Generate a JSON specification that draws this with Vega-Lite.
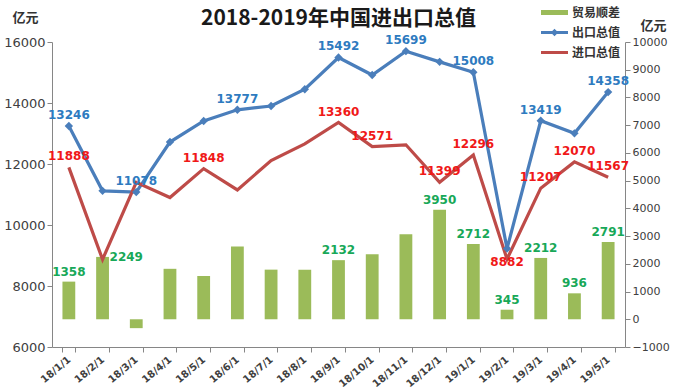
{
  "$schema": "https://vega.github.io/schema/vega-lite/v6.json",
  "width": 573,
  "height": 305,
  "autosize": "none",
  "padding": {"left": 52, "top": 42, "right": 52, "bottom": 45},
  "background": "white",
  "config": {"view": {"stroke": null}, "axis": {"grid": false}},
  "title": {"text": "2018-2019年中国进出口总值", "font": "Noto Sans CJK SC", "fontSize": 21, "fontWeight": "bold", "color": "#1a1a1a", "anchor": "middle", "offset": 0, "dy": 24},
  "data": {"values": [
    {"month": "18/1/1", "出口总值": 13246, "进口总值": 11888, "贸易顺差": 1358},
    {"month": "18/2/1", "出口总值": 11120, "进口总值": 8871, "贸易顺差": 2249},
    {"month": "18/3/1", "出口总值": 11078, "进口总值": 11398, "贸易顺差": -320},
    {"month": "18/4/1", "出口总值": 12720, "进口总值": 10900, "贸易顺差": 1820},
    {"month": "18/5/1", "出口总值": 13410, "进口总值": 11848, "贸易顺差": 1562},
    {"month": "18/6/1", "出口总值": 13777, "进口总值": 11150, "贸易顺差": 2627},
    {"month": "18/7/1", "出口总值": 13900, "进口总值": 12110, "贸易顺差": 1790},
    {"month": "18/8/1", "出口总值": 14450, "进口总值": 12660, "贸易顺差": 1790},
    {"month": "18/9/1", "出口总值": 15492, "进口总值": 13360, "贸易顺差": 2132},
    {"month": "18/10/1", "出口总值": 14917, "进口总值": 12571, "贸易顺差": 2346},
    {"month": "18/11/1", "出口总值": 15699, "进口总值": 12630, "贸易顺差": 3069},
    {"month": "18/12/1", "出口总值": 15349, "进口总值": 11399, "贸易顺差": 3950},
    {"month": "19/1/1", "出口总值": 15008, "进口总值": 12296, "贸易顺差": 2712},
    {"month": "19/2/1", "出口总值": 9227, "进口总值": 8882, "贸易顺差": 345},
    {"month": "19/3/1", "出口总值": 13419, "进口总值": 11207, "贸易顺差": 2212},
    {"month": "19/4/1", "出口总值": 13006, "进口总值": 12070, "贸易顺差": 936},
    {"month": "19/5/1", "出口总值": 14358, "进口总值": 11567, "贸易顺差": 2791}
  ]},
  "encoding": {
    "x": {
      "field": "month", "type": "ordinal",
      "sort": ["18/1/1","18/2/1","18/3/1","18/4/1","18/5/1","18/6/1","18/7/1","18/8/1","18/9/1","18/10/1","18/11/1","18/12/1","19/1/1","19/2/1","19/3/1","19/4/1","19/5/1"],
      "scale": {"paddingInner": 0.62, "paddingOuter": 0.31},
      "title": null,
      "axis": {"labelAngle": -40, "labelAlign": "right", "labelBaseline": "middle", "labelPadding": 6, "labelFont": "DejaVu Sans", "labelFontSize": 10, "labelFontWeight": "bold", "labelColor": "#404040", "tickBand": "extent", "domainColor": "#868686", "tickColor": "#868686", "tickSize": 5}
    }
  },
  "layer": [
    {
      "encoding": {
        "y": {"field": "贸易顺差", "type": "quantitative", "title": "亿元",
          "scale": {"domain": [-1000, 10000], "nice": false, "zero": false},
          "axis": {"orient": "right", "values": [-1000,0,1000,2000,3000,4000,5000,6000,7000,8000,9000,10000], "format": "d", "labelFont": "DejaVu Sans", "labelFontSize": 11, "labelColor": "#404040", "domainColor": "#868686", "tickColor": "#868686", "tickSize": 5, "titleAngle": 0, "titleX": 28, "titleY": -17, "titleAlign": "center", "titleBaseline": "middle", "titleFont": "Noto Sans CJK SC", "titleFontSize": 13, "titleFontWeight": "bold", "titleColor": "#333333"}}
      },
      "layer": [
        {"mark": {"type": "bar", "color": "#9BBB59"}},
        {
          "transform": [{"filter": {"field": "month", "oneOf": ["18/1/1","18/9/1","18/12/1","19/1/1","19/2/1","19/3/1","19/4/1","19/5/1"]}}],
          "mark": {"type": "text", "font": "DejaVu Sans", "fontSize": 12, "fontWeight": "bold", "color": "#18A858", "baseline": "bottom", "dy": -3},
          "encoding": {"text": {"field": "贸易顺差", "type": "quantitative", "format": "d"}}
        },
        {
          "transform": [{"filter": {"field": "month", "equal": "18/2/1"}}],
          "mark": {"type": "text", "font": "DejaVu Sans", "fontSize": 12, "fontWeight": "bold", "color": "#18A858", "baseline": "middle", "align": "left", "dx": 7},
          "encoding": {"text": {"field": "贸易顺差", "type": "quantitative", "format": "d"}}
        }
      ]
    },
    {
      "layer": [
        {
          "transform": [{"fold": ["出口总值", "进口总值"], "as": ["series", "value"]}],
          "mark": {"type": "line", "strokeWidth": 3.2},
          "encoding": {
            "y": {"field": "value", "type": "quantitative", "title": "亿元",
              "scale": {"domain": [6000, 16000], "nice": false, "zero": false},
              "axis": {"orient": "left", "values": [6000,7000,8000,9000,10000,11000,12000,13000,14000,15000,16000], "format": "d", "labelFont": "DejaVu Sans", "labelFontSize": 13, "labelColor": "#404040", "domainColor": "#868686", "tickColor": "#868686", "tickSize": 5, "titleAngle": 0, "titleX": -27, "titleY": -25, "titleAlign": "center", "titleBaseline": "middle", "titleFont": "Noto Sans CJK SC", "titleFontSize": 13, "titleFontWeight": "bold", "titleColor": "#333333"}},
            "color": {"field": "series", "type": "nominal",
              "scale": {"domain": ["贸易顺差", "出口总值", "进口总值"], "range": ["#9BBB59", "#4A7EBB", "#BE4B48"]},
              "legend": {"orient": "none", "legendX": 495, "legendY": -37, "title": null, "symbolSize": 225, "labelOffset": 10, "rowPadding": 6, "labelFont": "Noto Sans CJK SC", "labelFontSize": 12, "labelFontWeight": "bold", "labelColor": "#333333",
                "encode": {"symbols": {"update": {
                  "shape": {"signal": "datum.value === '贸易顺差' ? 'M-1.8,-0.33H1.8V0.33H-1.8Z' : datum.value === '出口总值' ? 'M-1.8,-0.2H1.8V0.2H-1.8Z M0,-0.5L0.5,0L0,0.5L-0.5,0Z' : 'M-1.8,-0.2H1.8V0.2H-1.8Z'"},
                  "fill": {"signal": "datum.value === '贸易顺差' ? '#9BBB59' : datum.value === '出口总值' ? '#4A7EBB' : '#BE4B48'"},
                  "stroke": {"value": "transparent"},
                  "strokeWidth": {"value": 0}
                }}}}
            }
          }
        },
        {
          "mark": {"type": "point", "shape": "diamond", "filled": true, "opacity": 1, "color": "#4A7EBB", "size": 70},
          "encoding": {"y": {"field": "出口总值", "type": "quantitative", "title": "亿元", "scale": {"domain": [6000, 16000], "nice": false, "zero": false}}}
        },
        {
          "transform": [{"filter": {"field": "month", "oneOf": ["18/1/1","18/3/1","18/6/1","18/9/1","18/11/1","19/1/1","19/3/1","19/5/1"]}}],
          "mark": {"type": "text", "font": "DejaVu Sans", "fontSize": 12, "fontWeight": "bold", "color": "#2E7BC0", "baseline": "bottom", "dy": -4},
          "encoding": {
            "y": {"field": "出口总值", "type": "quantitative", "title": "亿元", "scale": {"domain": [6000, 16000], "nice": false, "zero": false}},
            "text": {"field": "出口总值", "type": "quantitative", "format": "d"}
          }
        },
        {
          "transform": [{"filter": {"field": "month", "oneOf": ["18/1/1","18/5/1","18/9/1","18/10/1","18/12/1","19/1/1","19/3/1","19/4/1","19/5/1"]}}],
          "mark": {"type": "text", "font": "DejaVu Sans", "fontSize": 12, "fontWeight": "bold", "color": "#F01818", "baseline": "bottom", "dy": -4},
          "encoding": {
            "y": {"field": "进口总值", "type": "quantitative", "title": "亿元", "scale": {"domain": [6000, 16000], "nice": false, "zero": false}},
            "text": {"field": "进口总值", "type": "quantitative", "format": "d"}
          }
        },
        {
          "transform": [{"filter": {"field": "month", "equal": "19/2/1"}}],
          "mark": {"type": "text", "font": "DejaVu Sans", "fontSize": 12, "fontWeight": "bold", "color": "#F01818", "baseline": "top", "dy": -2},
          "encoding": {
            "y": {"field": "进口总值", "type": "quantitative", "title": "亿元", "scale": {"domain": [6000, 16000], "nice": false, "zero": false}},
            "text": {"field": "进口总值", "type": "quantitative", "format": "d"}
          }
        }
      ]
    }
  ],
  "resolve": {"scale": {"y": "independent"}}
}
